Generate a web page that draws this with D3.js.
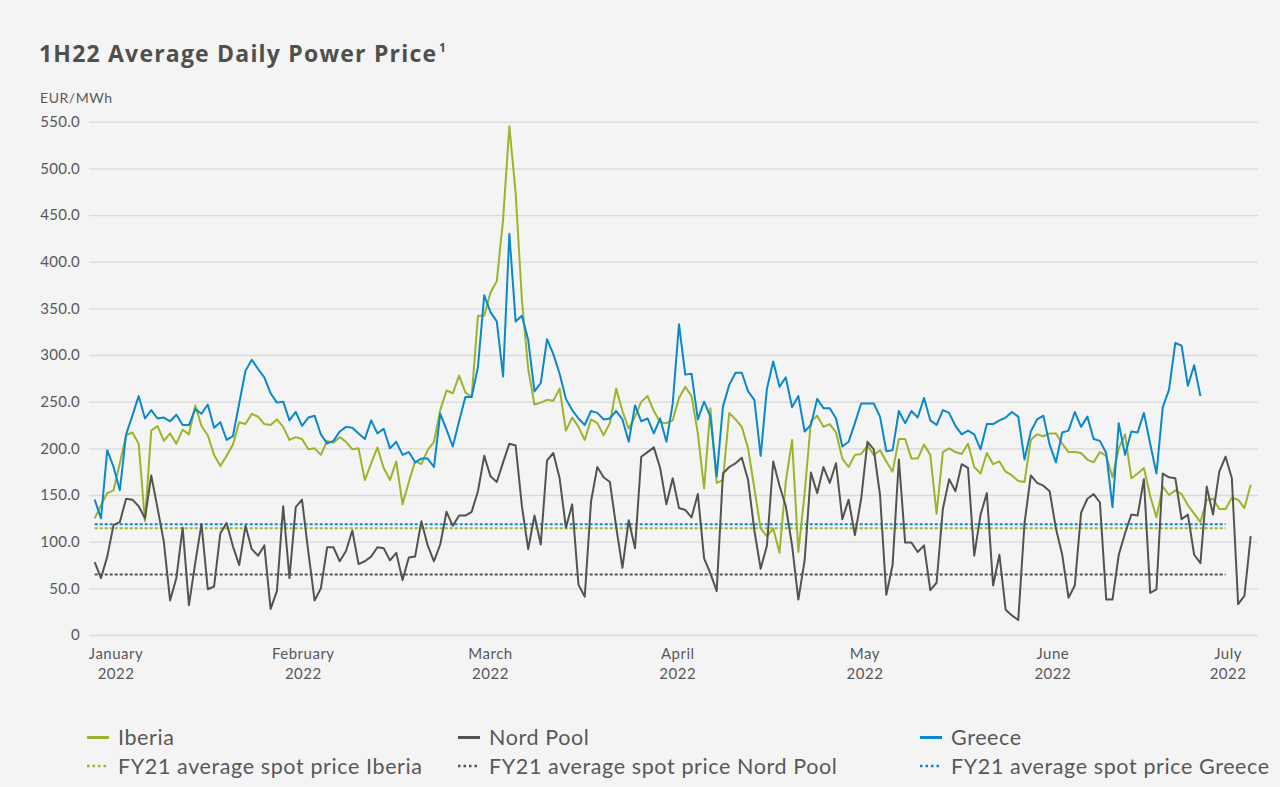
<!DOCTYPE html>
<html><head><meta charset="utf-8">
<script src="https://cdn.jsdelivr.net/npm/d3@7"></script>
<style>html,body{margin:0;padding:0;background:#f4f4f4;} svg{display:block;}</style>
</head><body><svg id="c" width="1280" height="787"></svg>
<script>
// ---- data (daily, 1 Jan 2022 .. 4 Jul 2022), EUR/MWh ----
const iberia = [125,139,152,155,184,214,217,205,122,219,224,208,216,205,220,215,246,224,214,193,
181,192,204,228,226,237,234,226,225,231,223,209,212,210,199,200,193,208,206,212,
207,199,200,166,184,201,179,166,186,140,164,186,183,198,207,241,262,259,278,260,
255,342,342,367,379,445,545,474,359,285,247,249,252,251,264,219,233,223,209,231,
227,214,227,264,240,221,234,250,256,240,228,227,230,254,266,256,216,157,243,163,
166,238,231,223,200,157,114,106,114,88,164,209,89,152,229,235,223,226,217,189,
180,193,194,203,193,198,186,175,210,210,189,189,204,193,130,196,200,196,194,205,
180,173,195,183,186,175,171,165,164,209,215,213,216,216,205,196,196,195,188,185,
196,192,169,200,215,168,173,179,149,126,159,150,155,151,139,130,121,145,146,135,
135,147,145,136,161];
const nordPool = [78,61,84,118,121,146,145,138,125,171,136,100,37,61,115,32,77,119,49,52,
109,120,95,75,117,92,85,96,28,47,138,61,137,145,89,37,50,94,94,79,
90,112,76,79,84,94,93,80,88,59,83,84,122,96,79,97,132,117,128,128,
132,154,192,170,164,185,205,203,138,92,128,97,187,195,168,115,140,54,41,143,
180,169,164,116,72,123,93,191,196,201,179,140,168,136,134,126,151,82,66,47,
173,180,184,190,166,112,71,96,186,160,138,96,38,80,174,152,180,163,184,124,
145,107,146,207,199,150,43,75,188,99,99,89,96,48,56,135,167,154,183,179,
85,129,152,53,86,27,21,16,120,171,163,160,154,114,86,40,53,131,146,151,
142,38,38,86,109,129,128,167,45,49,173,169,168,124,129,86,77,159,129,175,
191,168,33,42,106];
const greece = [145,125,198,180,155,215,235,256,232,241,232,233,229,236,225,225,242,237,247,222,
228,209,213,248,283,295,285,276,259,249,250,230,239,224,233,235,215,205,208,218,
223,222,216,210,230,216,221,200,207,193,196,185,189,189,180,237,220,202,229,255,
255,287,364,346,336,277,430,336,342,316,261,270,317,301,280,253,241,232,225,240,
238,231,232,240,231,207,246,229,232,216,232,207,248,333,279,280,231,250,234,170,
245,268,281,281,261,252,192,264,293,266,276,244,256,218,225,253,243,243,232,202,
207,227,248,248,248,234,197,198,240,227,240,233,254,230,225,241,238,224,215,219,
215,199,226,226,230,233,239,234,188,218,231,235,204,185,217,219,239,223,234,210,
208,195,137,227,193,218,217,238,205,173,244,263,313,310,267,289,256];
const fy21Iberia = [114.3];
const fy21NordPool = [64.8];
const fy21Greece = [118.6];
const fy21Span = [0, 180];            // day indexes covered by FY21 reference lines
const monthLabels = ["January","February","March","April","May","June","July"];
const monthTickIndex = [3.4,33.2,63.0,92.8,122.6,152.5,180.4];
const yTicks = [0,50,100,150,200,250,300,350,400,450,500,550];
const legendNames = ["Iberia","Nord Pool","Greece",
  "FY21 average spot price Iberia","FY21 average spot price Nord Pool","FY21 average spot price Greece"];

// ---- styles / layout ----
const FONT = "Lato, 'Open Sans', sans-serif";
const TFONT = "'Open Sans', Lato, sans-serif";
const C_IB = "#9bb42a", C_NP = "#535350", C_GR = "#0a88cc", TXT = "#58585a";
const svg = d3.select("#c");
svg.append("rect").attr("width",1280).attr("height",787).attr("fill","#f4f4f4");

// stretch letter spacing so a text element spans a target width
function fitWidth(sel, target){
  const n = sel.text().length;
  const w = sel.node().getComputedTextLength();
  const ls = (target - w) / Math.max(1, n - 1);
  sel.attr("letter-spacing", ls);
  return ls;
}

const x = d3.scaleLinear().domain([0, iberia.length-1]).range([94.7, 1250.7]);
const y = d3.scaleLinear().domain([0, 550]).range([635, 121.7]);
const gridL = 89, gridR = 1258;

// title
const t = svg.append("text").attr("x",39).attr("y",62).attr("font-family",TFONT)
  .attr("font-weight",700).attr("font-size",23).attr("fill","#4f4f4c")
  .text("1H22 Average Daily Power Price");
fitWidth(t, 397);
svg.append("text").attr("x",439).attr("y",52).attr("font-family",TFONT)
  .attr("font-weight",700).attr("font-size",12).attr("fill","#4f4f4c").text("1");
const u = svg.append("text").attr("x",40).attr("y",103).attr("font-family",FONT)
  .attr("font-size",14).attr("fill",TXT).text("EUR/MWh");
fitWidth(u, 72);

// y axis / grid
const ya = svg.append("g").attr("transform",`translate(${gridL},0)`)
  .call(d3.axisLeft(y).tickValues(yTicks).tickSize(-(gridR-gridL)).tickPadding(9)
    .tickFormat(d => d === 0 ? "0" : d.toFixed(1)));
ya.select(".domain").remove();
ya.selectAll("line").attr("stroke","#d9d9d9").attr("stroke-width",1.3);
ya.selectAll("text").attr("font-family",FONT).attr("font-size",15).attr("fill",TXT)
  .attr("letter-spacing",0.3);

// x labels
const xl = svg.append("g");
monthLabels.forEach((m,i) => {
  const cx = x(monthTickIndex[i]);
  xl.append("text").attr("x", cx).attr("y",659).attr("text-anchor","middle")
    .attr("font-family",FONT).attr("font-size",15).attr("fill",TXT).attr("letter-spacing",0.5).text(m);
  xl.append("text").attr("x", cx).attr("y",679).attr("text-anchor","middle")
    .attr("font-family",FONT).attr("font-size",15).attr("fill",TXT).attr("letter-spacing",0.5).text("2022");
});

// FY21 reference lines
function refLine(v, col){
  svg.append("line").attr("x1",x(fy21Span[0])).attr("x2",x(fy21Span[1]))
    .attr("y1",y(v)).attr("y2",y(v)).attr("stroke",col).attr("stroke-width",2)
    .attr("stroke-dasharray","3,2");
}
refLine(fy21Greece[0], C_GR);
refLine(fy21Iberia[0], C_IB);
refLine(fy21NordPool[0], C_NP);

const line = d3.line().x((d,i)=>x(i)).y(d=>y(d));
[[iberia,C_IB],[nordPool,C_NP],[greece,C_GR]].forEach(([s,c]) => {
  svg.append("path").datum(s).attr("d",line).attr("fill","none").attr("stroke",c)
    .attr("stroke-width",2).attr("stroke-linejoin","round");
});

// legend
const legCols = [87, 458, 920], legRows = [737.5, 766];
const legColors = [C_IB, C_NP, C_GR];
let legLS = null;
legendNames.forEach((n,k) => {
  const col = k % 3, row = Math.floor(k/3);
  const lx = legCols[col], ly = legRows[row];
  const ln = svg.append("line").attr("x1",lx).attr("x2",lx+22).attr("y1",ly).attr("y2",ly)
    .attr("stroke",legColors[col]);
  if (row === 0) ln.attr("stroke-width",3);
  else ln.attr("stroke-width",2.5).attr("stroke-dasharray","2.5,3");
  const tx = svg.append("text").attr("x",lx+31).attr("y",ly).attr("dy","0.36em")
    .attr("font-family",FONT).attr("font-size",21.5).attr("fill",TXT).text(n);
  if (k === 3) legLS = fitWidth(tx, 304);
});
svg.selectAll("text").filter(function(){ return +this.getAttribute("font-size") === 21.5; })
  .attr("letter-spacing", legLS);
</script></body></html>
